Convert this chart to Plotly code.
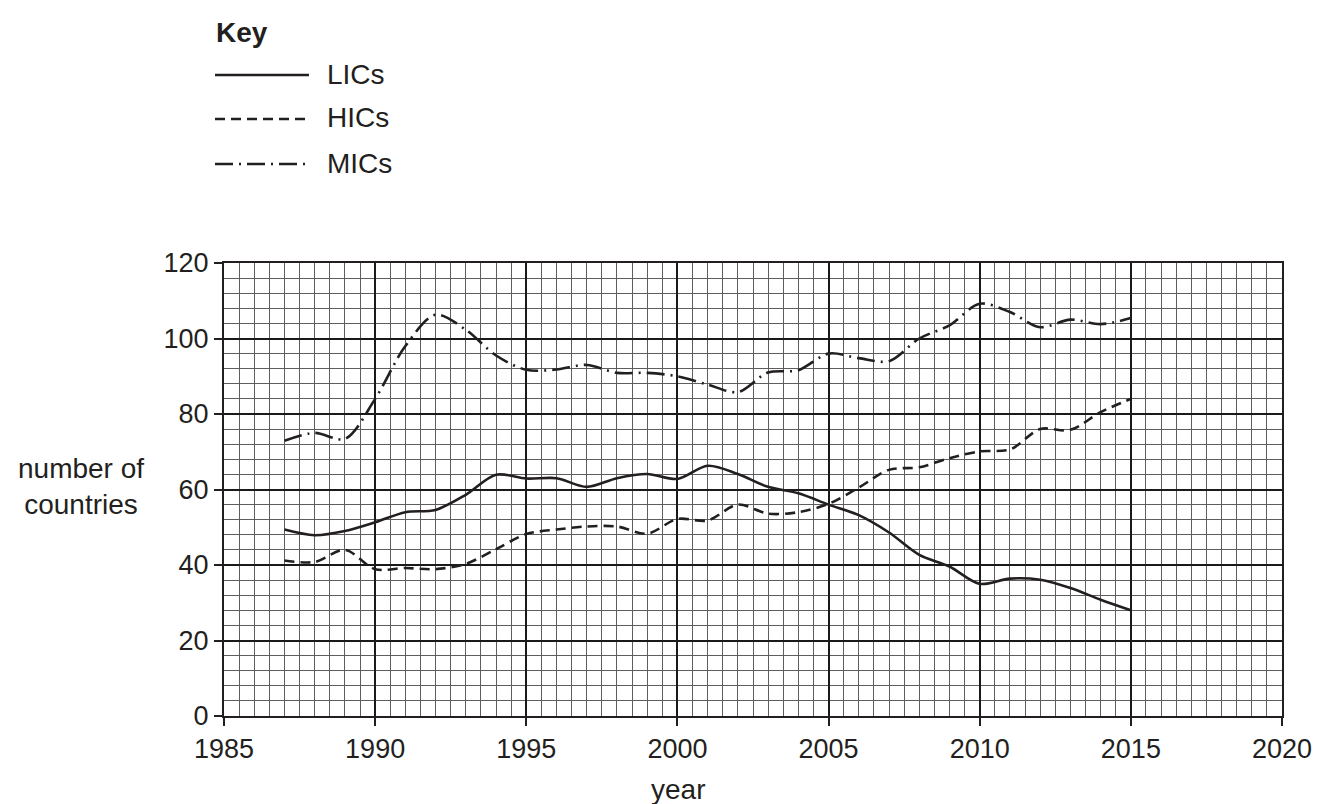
import plotly.graph_objects as go

# ---------------- data ----------------
years = list(range(1987, 2016))
lics = [49.4, 47.9, 49.0, 51.3, 54.0, 54.6, 58.6, 63.9, 62.9, 63.0, 60.7, 63.0, 64.1, 62.8,
        66.3, 64.1, 60.7, 59.0, 56.0, 53.2, 48.6, 42.7, 39.6, 35.0, 36.4, 36.1, 33.9, 30.8, 28.0]
hics = [41.2, 40.8, 44.0, 38.9, 39.2, 38.9, 40.3, 44.2, 48.2, 49.4, 50.2, 50.2, 48.3, 52.2,
        51.8, 56.0, 53.6, 54.0, 56.2, 60.5, 65.2, 65.9, 68.3, 70.1, 70.6, 76.0, 75.8, 80.5, 84.0]
mics = [72.9, 75.0, 73.4, 84.0, 98.0, 106.3, 102.3, 95.5, 91.7, 91.8, 93.0, 90.9, 90.9, 90.0,
        87.8, 85.8, 91.0, 91.6, 96.0, 94.8, 94.0, 100.0, 103.5, 109.2, 107.0, 103.0, 105.0, 103.8, 105.4]

series_names = ["LICs", "HICs", "MICs"]
x_ticks = [1985, 1990, 1995, 2000, 2005, 2010, 2015, 2020]
y_ticks = [0, 20, 40, 60, 80, 100, 120]

# ---------------- layout constants ----------------
W, H = 1324, 804
L, R, T, B = 216, 1274, 255, 708
INK = "#231f20"
FONT = "Liberation Sans, Arial, sans-serif"
FS = 28
XR = [1985, 2020]
YR = [0, 120]

def px(xp):
    return (xp - L) / (R - L)

def py(yp):
    return (B - yp) / (B - T)

styles = {
    "LICs": "solid",
    "HICs": "10px,6px",
    "MICs": "18px,6px,2px,6px",
}
values = {"LICs": lics, "HICs": hics, "MICs": mics}

fig = go.Figure()

# invisible anchor so the fine grid layer is drawn
fig.add_trace(go.Scatter(x=[XR[0]], y=[YR[0]], mode="markers", marker=dict(opacity=0),
                         xaxis="x", yaxis="y", showlegend=False, hoverinfo="skip"))

for name in series_names:
    fig.add_trace(go.Scatter(
        x=years, y=values[name], mode="lines", name=name,
        xaxis="x2", yaxis="y2", showlegend=False,
        line=dict(color=INK, width=2.6, dash=styles[name], shape="spline", smoothing=0.9),
        hoverinfo="skip",
    ))

def grid_axis(dtick, color, width, rng, **kw):
    d = dict(range=rng, tickmode="linear", tick0=rng[0], dtick=dtick, showgrid=True,
             gridcolor=color, gridwidth=width, showticklabels=False, ticks="",
             zeroline=False, showline=False, fixedrange=True)
    d.update(kw)
    return d

fig.update_layout(
    width=W, height=H,
    margin=dict(l=L, r=W - R, t=T, b=H - B, pad=0),
    paper_bgcolor="white", plot_bgcolor="rgba(0,0,0,0)",
    font=dict(family=FONT, size=FS, color=INK),
    # fine grid: half years / 4 units
    xaxis=grid_axis(0.5, "#5e5e5e", 1, XR),
    yaxis=grid_axis(4, "#5e5e5e", 1, YR),
    # main labelled axes with heavy grid
    xaxis2=dict(range=XR, overlaying="x", side="bottom", anchor="y2",
                tickmode="array", tickvals=x_ticks, ticktext=[str(v) for v in x_ticks],
                showgrid=True, gridcolor="#1a1a1a", gridwidth=2,
                ticks="outside", ticklen=8, tickwidth=2, tickcolor=INK,
                showline=True, linecolor=INK, linewidth=2, mirror=True,
                zeroline=False, tickfont=dict(size=FS - 1, color=INK, family=FONT), fixedrange=True),
    yaxis2=dict(range=YR, overlaying="y", side="left", anchor="x2",
                tickmode="array", tickvals=y_ticks, ticktext=[str(v) for v in y_ticks],
                showgrid=True, gridcolor="#1a1a1a", gridwidth=2,
                ticks="outside", ticklen=8, tickwidth=2, tickcolor=INK,
                showline=True, linecolor=INK, linewidth=2, mirror=True,
                zeroline=False, tickfont=dict(size=FS - 1, color=INK, family=FONT), fixedrange=True),
)

annotations = []
shapes = []

# axis titles
annotations.append(dict(text="number of<br>countries", xref="paper", yref="paper",
                        x=px(73), y=py(478), xanchor="center", yanchor="middle",
                        showarrow=False, align="center", font=dict(size=FS, color=INK, family=FONT)))
annotations.append(dict(text="year", xref="paper", yref="paper",
                        x=px(670), y=py(781), xanchor="center", yanchor="middle",
                        showarrow=False, font=dict(size=FS, color=INK, family=FONT)))

# key
annotations.append(dict(text="<b>Key</b>", xref="paper", yref="paper",
                        x=px(206), y=py(24), xanchor="left", yanchor="middle",
                        showarrow=False, font=dict(size=FS, color=INK, family=FONT)))
key_rows = [("LICs", 67), ("HICs", 111), ("MICs", 156)]
for name, yk in key_rows:
    shapes.append(dict(type="line", xref="paper", yref="paper",
                       x0=px(207), x1=px(301), y0=py(yk), y1=py(yk),
                       line=dict(color=INK, width=2.6, dash=styles[name])))
    annotations.append(dict(text=name, xref="paper", yref="paper",
                            x=px(317), y=py(yk - 1), xanchor="left", yanchor="middle",
                            showarrow=False, font=dict(size=FS, color=INK, family=FONT)))

fig.update_layout(annotations=annotations, shapes=shapes)

fig.write_html("out.html")
